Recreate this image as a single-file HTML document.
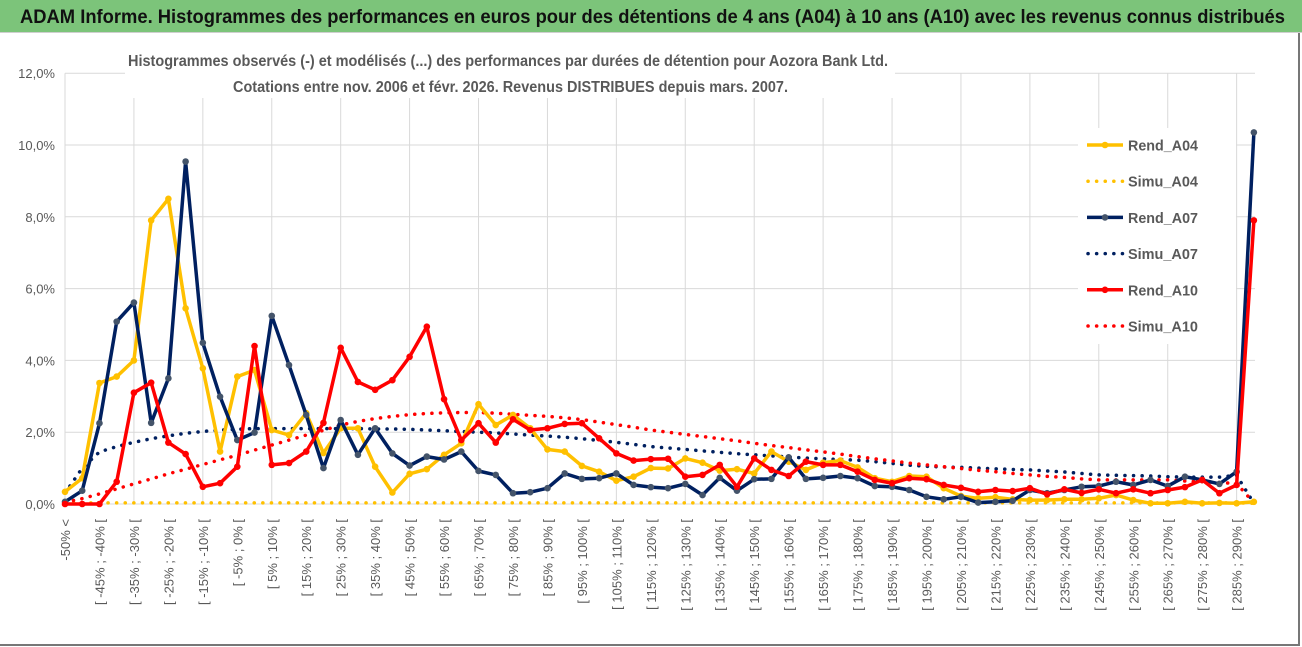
<!DOCTYPE html>
<html><head><meta charset="utf-8">
<style>
html,body{margin:0;padding:0;background:#fff;}
body{width:1302px;height:647px;overflow:hidden;position:relative;font-family:"Liberation Sans",sans-serif;}
#title{position:absolute;left:0;top:0;width:1302px;height:32px;background:#7cc47a;border-bottom:1px solid #cfcfcf;}
#frame{position:absolute;left:0;top:33px;width:1298px;height:611px;border-right:2px solid #777;border-bottom:2px solid #777;}
svg{position:absolute;left:0;top:0;}
</style></head>
<body>
<div id="title"></div>
<div id="frame"></div>
<svg id="chart" width="1302" height="647">
<text x="20" y="23" font-size="19" font-weight="bold" fill="#111" textLength="1265" lengthAdjust="spacingAndGlyphs">ADAM Informe. Histogrammes des performances en euros pour des détentions de 4 ans (A04) à 10 ans (A10) avec les revenus connus distribués</text>
</svg>
<script>
const categories = [];
categories.push('-50% <');
for (let k = -50; k < 290; k += 5) categories.push('[ ' + k + '% ; ' + (k + 5) + '% [');
categories.push('>= 290%');
const yTicks = [0, 2, 4, 6, 8, 10, 12];
const yTickLabels = ['0,0%', '2,0%', '4,0%', '6,0%', '8,0%', '10,0%', '12,0%'];
const seriesNames = ['Rend_A04', 'Simu_A04', 'Rend_A07', 'Simu_A07', 'Rend_A10', 'Simu_A10'];
const rendA04 = [0.34,0.72,3.37,3.55,4.0,7.9,8.5,5.45,3.78,1.46,3.55,3.73,2.06,1.92,2.53,1.42,2.11,2.11,1.04,0.32,0.84,0.97,1.37,1.69,2.78,2.2,2.48,2.11,1.52,1.46,1.06,0.9,0.65,0.76,1.0,0.99,1.27,1.15,0.93,0.97,0.85,1.46,1.18,0.95,1.15,1.21,1.02,0.72,0.62,0.78,0.76,0.44,0.22,0.16,0.19,0.13,0.11,0.11,0.13,0.13,0.16,0.25,0.11,0.02,0.02,0.06,0.02,0.03,0.02,0.06];
const simuA04 = [0.03,0.03,0.03,0.03,0.03,0.03,0.03,0.03,0.03,0.03,0.03,0.03,0.03,0.03,0.03,0.03,0.03,0.03,0.03,0.03,0.03,0.03,0.03,0.03,0.03,0.03,0.03,0.03,0.03,0.03,0.03,0.03,0.03,0.03,0.03,0.03,0.03,0.03,0.03,0.03,0.03,0.03,0.03,0.03,0.03,0.03,0.03,0.03,0.03,0.03,0.03,0.03,0.03,0.03,0.03,0.03,0.03,0.03,0.03,0.03,0.03,0.03,0.03,0.03,0.03,0.03,0.03,0.03,0.03,0.02];
const rendA07 = [0.06,0.37,2.25,5.08,5.61,2.26,3.5,9.54,4.49,2.99,1.78,1.99,5.24,3.87,2.48,1.0,2.34,1.37,2.11,1.41,1.07,1.32,1.24,1.46,0.92,0.81,0.3,0.33,0.44,0.85,0.7,0.72,0.85,0.53,0.47,0.44,0.56,0.25,0.73,0.37,0.69,0.7,1.3,0.7,0.73,0.78,0.72,0.5,0.48,0.39,0.2,0.13,0.2,0.04,0.06,0.09,0.39,0.3,0.39,0.48,0.5,0.62,0.53,0.67,0.5,0.76,0.67,0.56,0.9,10.35];
const simuA07 = [0.3,1.0,1.45,1.6,1.72,1.82,1.9,1.97,2.02,2.06,2.08,2.1,2.1,2.1,2.1,2.1,2.1,2.1,2.09,2.09,2.08,2.06,2.04,2.02,2.0,1.98,1.95,1.92,1.89,1.86,1.82,1.77,1.72,1.66,1.6,1.56,1.52,1.48,1.44,1.4,1.37,1.34,1.31,1.28,1.26,1.24,1.22,1.18,1.13,1.08,1.05,1.03,1.02,1.0,0.98,0.96,0.95,0.92,0.89,0.85,0.81,0.8,0.79,0.78,0.76,0.75,0.75,0.75,0.8,0.02];
const rendA10 = [0,0,0,0.62,3.1,3.38,1.71,1.39,0.48,0.58,1.04,4.4,1.09,1.14,1.46,2.26,4.35,3.4,3.18,3.45,4.1,4.94,2.92,1.78,2.25,1.71,2.36,2.06,2.11,2.23,2.25,1.83,1.41,1.21,1.25,1.26,0.76,0.81,1.09,0.48,1.27,0.95,0.78,1.18,1.09,1.09,0.9,0.67,0.58,0.72,0.69,0.53,0.45,0.34,0.39,0.36,0.44,0.27,0.41,0.31,0.41,0.3,0.41,0.3,0.39,0.47,0.67,0.3,0.53,7.9];
const simuA10 = [0.05,0.15,0.28,0.42,0.56,0.7,0.84,0.97,1.1,1.23,1.36,1.5,1.64,1.78,1.92,2.05,2.2,2.3,2.38,2.44,2.49,2.52,2.54,2.55,2.55,2.53,2.5,2.47,2.44,2.4,2.35,2.28,2.21,2.14,2.06,2.0,1.94,1.88,1.82,1.76,1.69,1.63,1.57,1.51,1.45,1.39,1.32,1.26,1.2,1.14,1.09,1.04,0.99,0.94,0.9,0.85,0.81,0.77,0.74,0.7,0.67,0.67,0.67,0.67,0.67,0.64,0.62,0.6,0.57,0.03];

const NS = 'http://www.w3.org/2000/svg';
const svg = document.getElementById('chart');
const X0 = 65, DX = 17.23, Y0 = 504, PXV = 35.9;
function xScale(i){ return X0 + DX * i; }
function yScale(v){ return Y0 - PXV * v; }
function mk(tag, attrs, parent){
  const e = document.createElementNS(NS, tag);
  for (const k in attrs) e.setAttribute(k, attrs[k]);
  (parent || svg).appendChild(e);
  return e;
}
const grid = mk('g', {});


yTicks.forEach((t, k) => {
  const y = yScale(t);
  const l = mk('line', {x1: X0, x2: 1255, y1: y, y2: y, stroke: '#d9d9d9', 'stroke-width': 1}, grid);
  
  
  const tx = mk('text', {x: 55, y: y + 5, 'text-anchor': 'end', 'font-size': 13, fill: '#595959'});
  tx.textContent = yTickLabels[k];
  
  
});
for (let i = 0; i < categories.length; i += 4) {
  const l = mk('line', {x1: xScale(i), x2: xScale(i), y1: yScale(12), y2: Y0, stroke: '#d9d9d9', 'stroke-width': 1}, grid);
  
  
}
for (let i = 0; i < categories.length; i += 2) {
  const x = xScale(i) + 5;
  const t = mk('text', {x: x, y: 519, 'text-anchor': 'end', 'font-size': 13, fill: '#595959', transform: 'rotate(-90 ' + x + ' 519)'});
  t.textContent = categories[i];
  
  
}

// subtitle
const sb = mk('rect', {x: 125, y: 44, width: 770, height: 54, fill: '#fff'});


const s1 = mk('text', {x: 128, y: 66, 'font-size': 15.5, 'font-weight': 'bold', fill: '#595959', textLength: 760, lengthAdjust: 'spacingAndGlyphs'});
s1.textContent = 'Histogrammes observés (-) et modélisés (...) des performances par durées de détention pour Aozora Bank Ltd.';


const s2 = mk('text', {x: 233, y: 92, 'font-size': 15.5, 'font-weight': 'bold', fill: '#595959', textLength: 555, lengthAdjust: 'spacingAndGlyphs'});
s2.textContent = 'Cotations entre nov. 2006 et févr. 2026. Revenus DISTRIBUES depuis mars. 2007.';



// legend
const lg = mk('g', {});


mk('rect', {x: 1078, y: 128, width: 158, height: 216, fill: '#fff'}, lg);
const legColors = ['#ffc000', '#ffc000', '#002060', '#002060', '#ff0000', '#ff0000'];
const legMarker = ['#ffc000', '#ffc000', '#44546a', '#44546a', '#ff0000', '#ff0000'];
seriesNames.forEach((n, k) => {
  const y = 145 + k * 36.2;
  const e = mk('g', {}, lg);
  
  
  if (k % 2 === 0) {
    mk('line', {x1: 1087, x2: 1123, y1: y, y2: y, stroke: legColors[k], 'stroke-width': 3.5}, e);
    mk('circle', {cx: 1105, cy: y, r: 3.3, fill: legMarker[k]}, e);
  } else {
    mk('line', {x1: 1088, x2: 1123, y1: y, y2: y, stroke: legColors[k], 'stroke-width': 3.5, 'stroke-dasharray': '0.1 8.5', 'stroke-linecap': 'round'}, e);
  }
  const t = mk('text', {x: 1128, y: y + 5.5, 'font-size': 15, 'font-weight': 'bold', fill: '#595959', textLength: 70, lengthAdjust: 'spacingAndGlyphs'}, e);
  t.textContent = n;
});

function pts(arr){ return arr.map((v, i) => xScale(i).toFixed(1) + ',' + yScale(v).toFixed(1)).join(' '); }
function dotted(arr, color, name){
  const p = mk('polyline', {points: pts(arr), fill: 'none', stroke: color, 'stroke-width': 3.5, 'stroke-dasharray': '0.1 8.5', 'stroke-linecap': 'round'});
  
  
}
function solid(arr, color, mcolor, name){
  const g = mk('g', {});
  
  
  mk('polyline', {points: pts(arr), fill: 'none', stroke: color, 'stroke-width': 3.5, 'stroke-linejoin': 'round'}, g);
  arr.forEach((v, i) => {
    const c = mk('circle', {cx: xScale(i), cy: yScale(v), r: 3.3, fill: mcolor}, g);
    
    
  });
}
dotted(simuA04, '#ffc000', 'simu-a04-line');
dotted(simuA07, '#002060', 'simu-a07-line');
dotted(simuA10, '#ff0000', 'simu-a10-line');
solid(rendA04, '#ffc000', '#ffc000', 'rend-a04-series');
solid(rendA07, '#002060', '#44546a', 'rend-a07-series');
solid(rendA10, '#ff0000', '#ff0000', 'rend-a10-series');
</script>
</body></html>
